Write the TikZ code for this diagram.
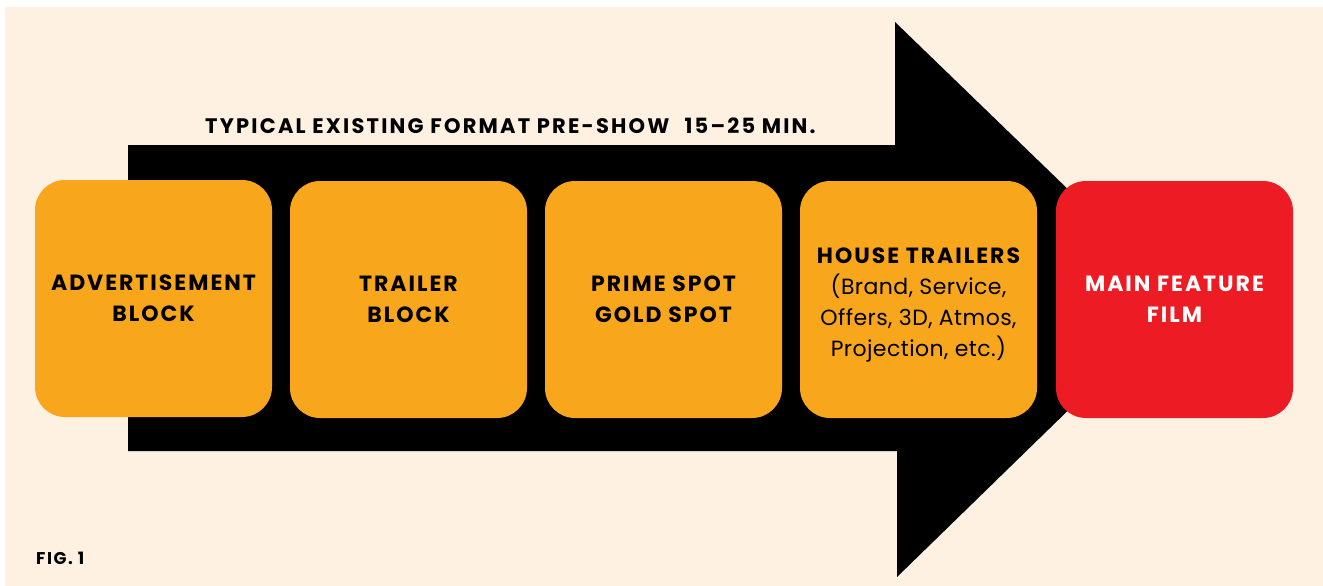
\documentclass[tikz,border=0pt]{standalone}
\usepackage{fontspec}
\setmainfont{Poppins}
\newfontfamily\widebold[LetterSpace=9]{Poppins}
\newfontfamily\titlebold[LetterSpace=10.5]{Poppins}
\newfontfamily\wideregular[LetterSpace=2]{Poppins}
\definecolor{cream}{HTML}{FEF1E2}
\definecolor{orangebox}{HTML}{F8A61C}
\definecolor{redbox}{HTML}{ED1C24}
\begin{document}
\begin{tikzpicture}[x=1pt,y=-1pt,
  blockbox/.style={rounded corners=30pt, minimum width=237pt, minimum height=237pt,
    inner sep=0pt, align=center, font=\fontsize{22}{31}\widebold\bfseries},
  orangeblock/.style={blockbox, fill=orangebox, text=black},
  redblock/.style={blockbox, fill=redbox, text=white},
  blocktext/.style={inner sep=0pt, align=center, font=\fontsize{22}{31}\widebold\bfseries}]
\useasboundingbox (0,0) rectangle (1323,586);
\fill[white] (0,0) rectangle (1323,586);
\fill[cream] (5,7) rectangle (1323,586);
% arrow
\fill[black] (128,145) -- (895,145) -- (895,22) -- (1182,299.5) -- (897,577) -- (897,451) -- (128,451) -- cycle;
% title
\node[anchor=base west, inner sep=0pt, font=\fontsize{21}{24}\titlebold\bfseries] (title) at (205,133)
  {TYPICAL EXISTING FORMAT PRE-SHOW\hspace{0.4em} 15–25 MIN.};
% boxes
\node[orangeblock] (b1) at (153.5,298.5) {ADVERTISEMENT\\BLOCK};
\node[orangeblock] (b2) at (408.5,299.5) {TRAILER\\BLOCK};
\node[orangeblock] (b3) at (663.5,299.5) {PRIME SPOT\\GOLD SPOT};
\node[orangeblock] (b4) at (918.5,299.5) {};
\node[blocktext] (b4text) at (918.5,305) {HOUSE TRAILERS\\\wideregular\mdseries (Brand, Service,\\\wideregular\mdseries Offers, 3D, Atmos,\\\wideregular\mdseries Projection, etc.)};
\node[redblock] (b5) at (1174.5,299.5) {MAIN FEATURE\\FILM};
% figure label
\node[anchor=base west, inner sep=0pt, font=\fontsize{17}{20}\widebold\bfseries] (fig) at (36,564) {FIG. 1};
\end{tikzpicture}
\end{document}
